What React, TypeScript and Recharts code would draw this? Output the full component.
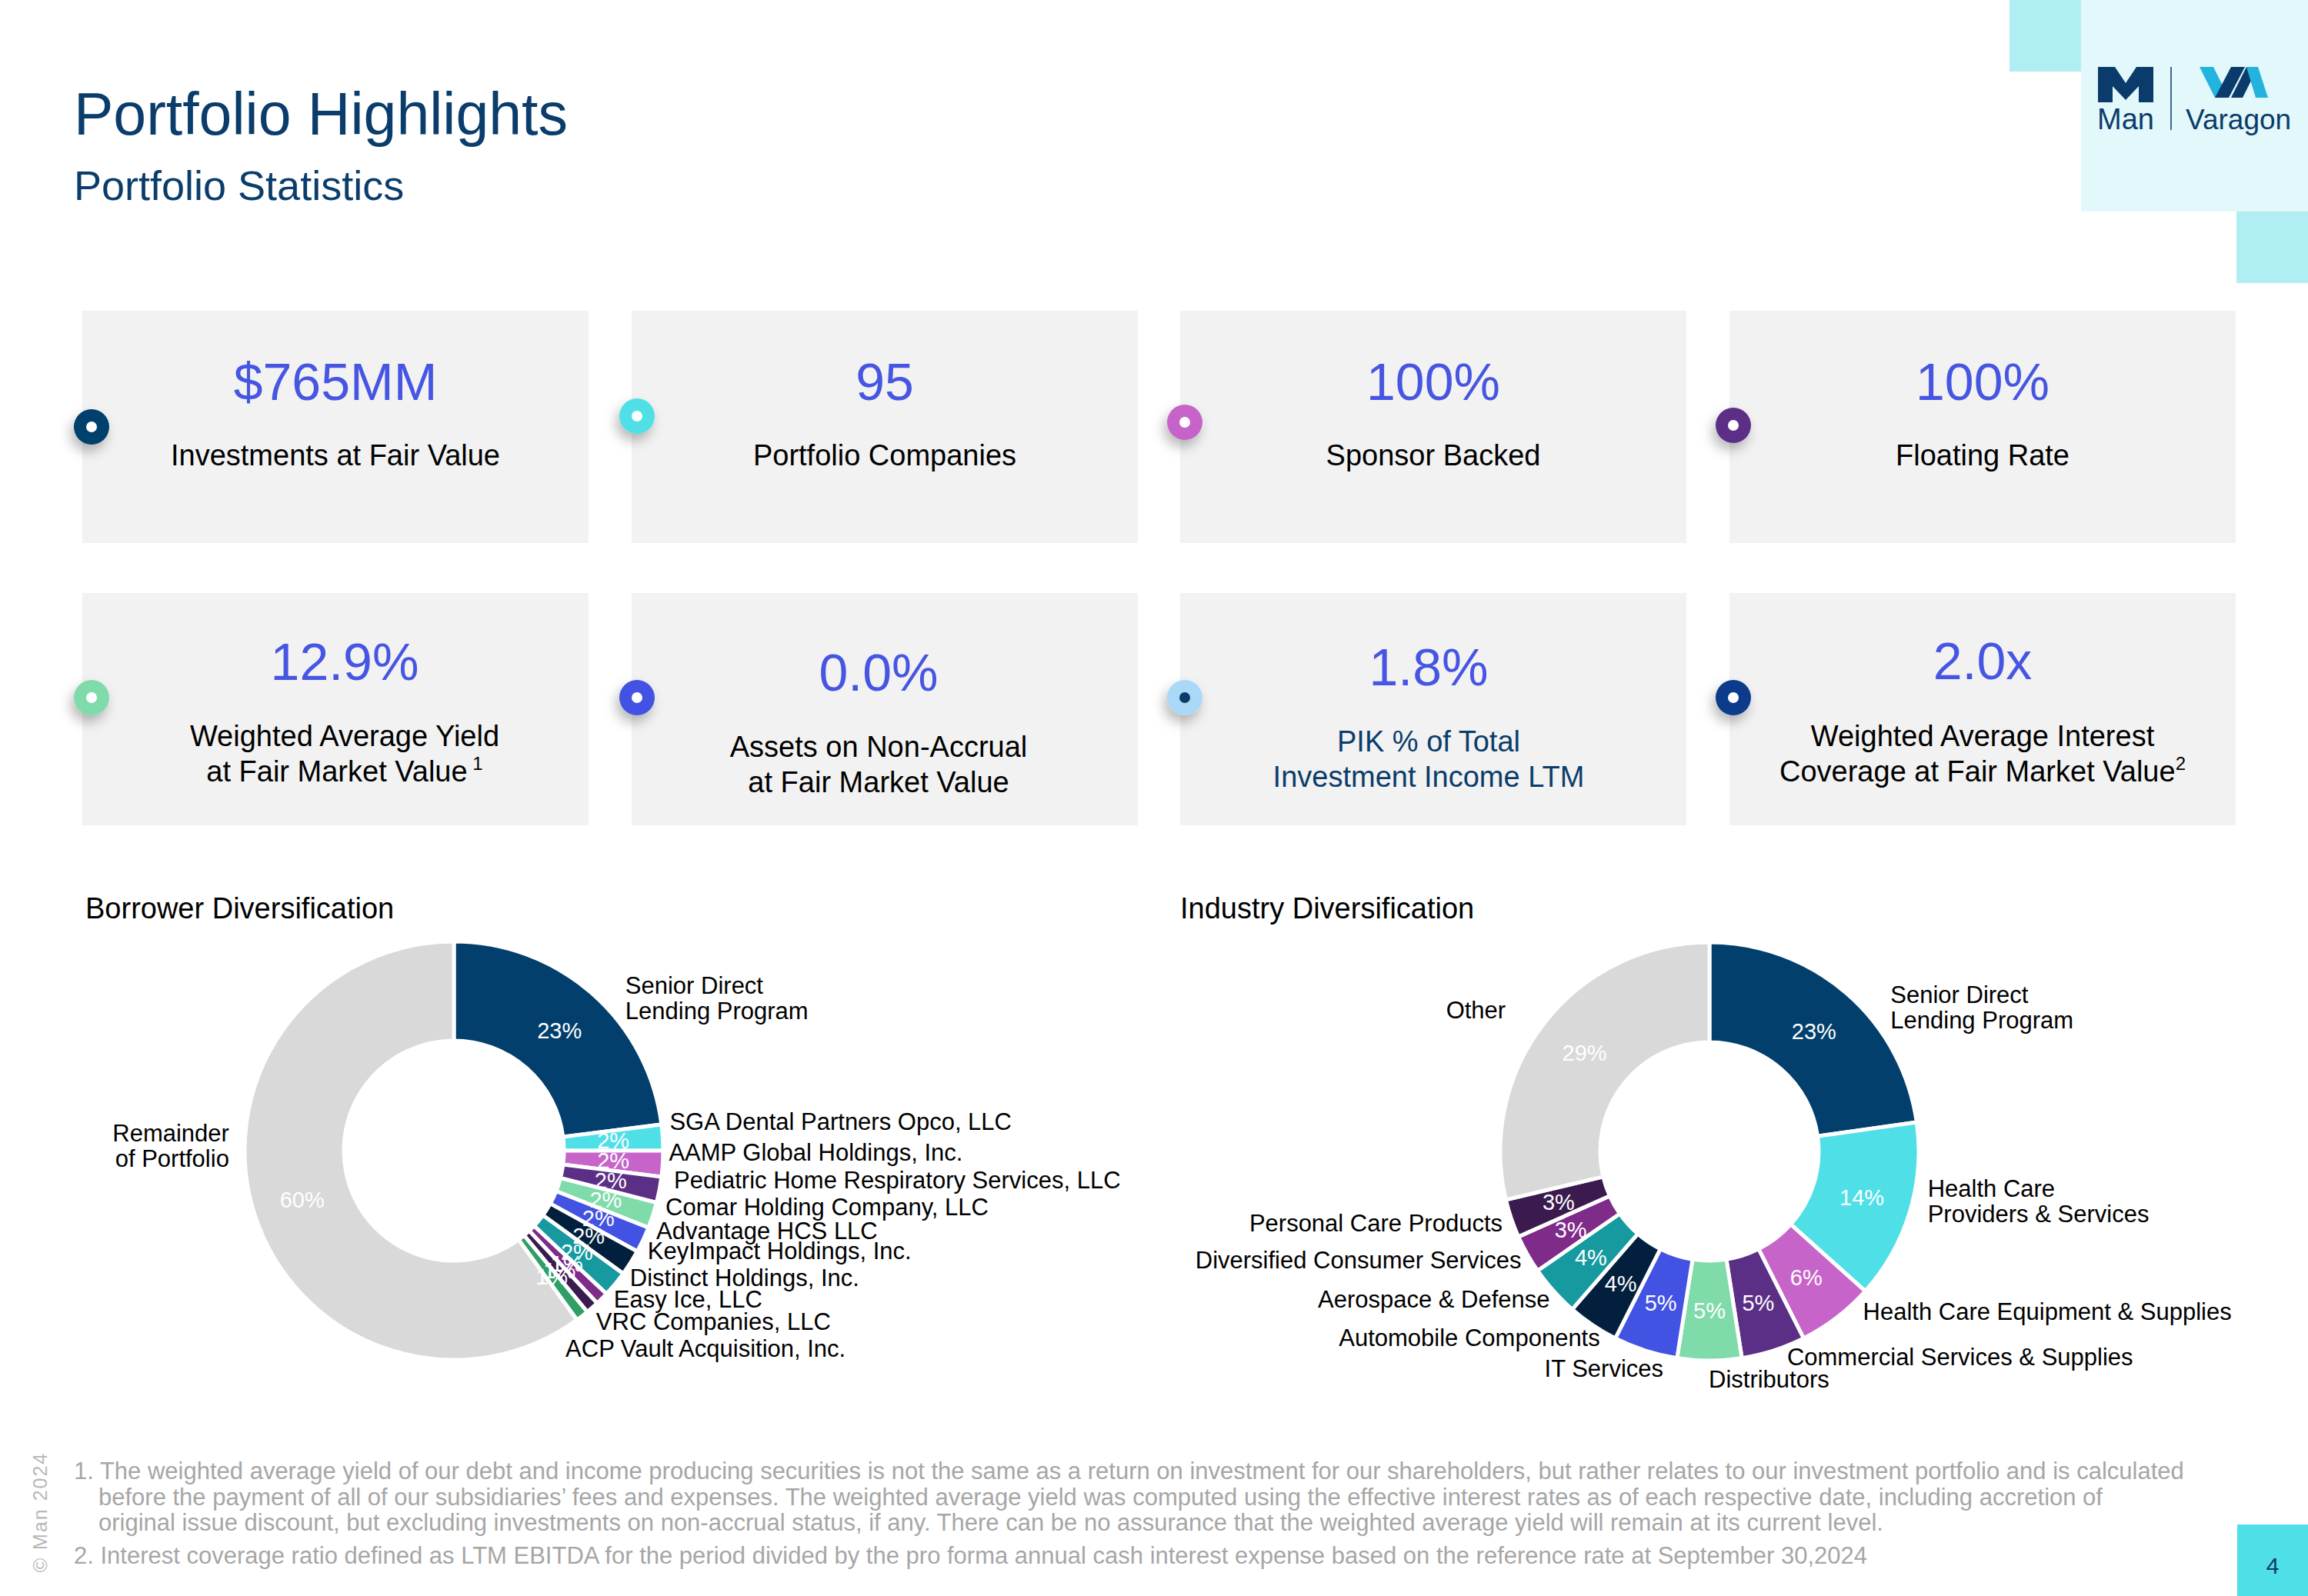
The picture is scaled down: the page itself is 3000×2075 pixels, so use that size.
import React from 'react';
import { PieChart, Pie } from 'recharts';

// ---------- data ----------
const statValues = ['$765MM', '95', '100%', '100%', '12.9%', '0.0%', '1.8%', '2.0x'];
const statLabels = [
  ['Investments at Fair Value'],
  ['Portfolio Companies'],
  ['Sponsor Backed'],
  ['Floating Rate'],
  ['Weighted Average Yield', 'at Fair Market Value'],
  ['Assets on Non-Accrual', 'at Fair Market Value'],
  ['PIK % of Total', 'Investment Income LTM'],
  ['Weighted Average Interest', 'Coverage at Fair Market Value'],
];
const statNotes = ['', '', '', '', '1', '', '', '2'];
const statDotColors = ['#023f6c', '#4fdfe7', '#c664c9', '#5b2f86', '#80dbaa', '#4253e3', '#aad8f7', '#0b3a8c'];
const statDotCenters = ['#ffffff', '#ffffff', '#ffffff', '#ffffff', '#ffffff', '#ffffff', '#0b3b6a', '#ffffff'];

const borrowerNames = [
  'Senior Direct\nLending Program',
  'SGA Dental Partners Opco, LLC',
  'AAMP Global Holdings, Inc.',
  'Pediatric Home Respiratory Services, LLC',
  'Comar Holding Company, LLC',
  'Advantage HCS LLC',
  'KeyImpact Holdings, Inc.',
  'Distinct Holdings, Inc.',
  'Easy Ice, LLC',
  'VRC Companies, LLC',
  'ACP Vault Acquisition, Inc.',
  'Remainder\nof Portfolio',
];
const borrowerValues = [23, 2, 2, 2, 2, 2, 2, 2, 1, 1, 1, 60];
const borrowerColors = ['#023f6c', '#4fdfe7', '#c664c9', '#5b2f86', '#80dbaa', '#4253e3', '#02203d', '#169aa0', '#7e2b8a', '#3b1b4f', '#2f9f67', '#d9d9d9'];

const industryNames = [
  'Senior Direct\nLending Program',
  'Health Care\nProviders & Services',
  'Health Care Equipment & Supplies',
  'Commercial Services & Supplies',
  'Distributors',
  'IT Services',
  'Automobile Components',
  'Aerospace & Defense',
  'Diversified Consumer Services',
  'Personal Care Products',
  'Other',
];
const industryValues = [23, 14, 6, 5, 5, 5, 4, 4, 3, 3, 29];
const industryColors = ['#023f6c', '#4fdfe7', '#c664c9', '#5b2f86', '#80dbaa', '#4253e3', '#02203d', '#169aa0', '#7e2b8a', '#3b1b4f', '#d9d9d9'];

const footnoteLines = [
  '1. The weighted average yield of our debt and income producing securities is not the same as a return on investment for our shareholders, but rather relates to our investment portfolio and is calculated',
  'before the payment of all of our subsidiaries\u2019 fees and expenses. The weighted average yield was computed using the effective interest rates as of each respective date, including accretion of',
  'original issue discount, but excluding investments on non-accrual status, if any. There can be no assurance that the weighted average yield will remain at its current level.',
  '2. Interest coverage ratio defined as LTM EBITDA for the period divided by the pro forma annual cash interest expense based on the reference rate at September 30,2024',
];

// ---------- layout ----------
const FONT = '"Liberation Sans", Arial, Helvetica, sans-serif';
const NAVY = '#0a3d6b';
const VALUE_BLUE = '#4656e2';
const cardX = [107, 821, 1534, 2248];
const cardW = 658;
const rowTop = [404, 771];
const cardH = 302;
const contentShift = [0, 0, 0, 0, 12, -8, -6, 0];
const valueOffset = [116, 116, 116, 116, 113, 127, 120, 112];
const labelOffset = [201, 201, 201, 201, 199, 213, 206, 199];
const dotX = [119, 828, 1540, 2253];
const dotY = [555, 541, 549, 553, 907, 907, 907, 907];
const footX = [96, 128, 128, 96];
const footY = [1923, 1957, 1990, 2033];

const borrowerNudge: [number, number][] = [
  [35, 15], [-3, -20], [-4, -16], [7, -15], [5, -15], [6, -17], [12, -22], [10, -16], [7, -8], [-3, 9], [-29, 33], [-22, -94],
];
const industryNudge: [number, number][] = [
  [49, 27], [12, -18], [27, -18], [14, -3], [-1, 12], [27, 12], [16, 6], [4, 2], [3, 2], [0, 2], [-42, -8],
];

const RAD = Math.PI / 180;

function makeLabel(names: string[], nudges: [number, number][]) {
  return (props: any) => {
    const { cx, cy, midAngle, innerRadius, outerRadius, index, value } = props;
    const rm = (innerRadius + outerRadius) / 2;
    const px = cx + rm * Math.cos(-midAngle * RAD);
    const py = cy + rm * Math.sin(-midAngle * RAD);
    const ro = outerRadius + 12;
    const ax = cx + ro * Math.cos(-midAngle * RAD);
    const ay = cy + ro * Math.sin(-midAngle * RAD);
    const anchor = ax >= cx - 1 ? 'start' : 'end';
    const [ndx, ndy] = nudges[index] || [0, 0];
    const lines = names[index].split('\n');
    const lh = 33;
    const first = -((lines.length - 1) / 2) * lh;
    return (
      <g>
        <text x={px} y={py} fill="#ffffff" fontSize={29} fontFamily={FONT} textAnchor="middle" dominantBaseline="central">
          {`${value}%`}
        </text>
        <text x={ax + ndx} y={ay + ndy} fill="#000000" fontSize={31} fontFamily={FONT} textAnchor={anchor} dominantBaseline="central">
          {lines.map((l, i) => (
            <tspan key={i} x={ax + ndx} dy={i === 0 ? first : lh}>{l}</tspan>
          ))}
        </text>
      </g>
    );
  };
}

const borrowerData = borrowerNames.map((n, i) => ({ name: n, value: borrowerValues[i], fill: borrowerColors[i] }));
const industryData = industryNames.map((n, i) => ({ name: n, value: industryValues[i], fill: industryColors[i] }));

function Background() {
  return (
    <svg width={3000} height={2075} style={{ position: 'absolute', left: 0, top: 0 }} fontFamily={FONT}>
      <defs>
        <filter id="dotShadow" x="-100%" y="-100%" width="300%" height="300%">
          <feDropShadow dx={-4} dy={9} stdDeviation={8} floodColor="#000" floodOpacity={0.28} />
        </filter>
      </defs>
      <rect x={0} y={0} width={3000} height={2075} fill="#ffffff" />
      {/* decorative logo blocks */}
      <rect x={2612} y={0} width={93} height={93} fill="#b0eef4" />
      <rect x={2705} y={0} width={295} height={275} fill="#e2f8fa" />
      <rect x={2907} y={275} width={93} height={93} fill="#b0eef4" />
      {/* Man mark */}
      <path d="M2727,87 L2749,87 L2763,108 L2777,87 L2799,87 L2799,133 L2780,133 L2780,112 L2763,130 L2746,112 L2746,133 L2727,133 Z" fill="#0b3b6a" />
      <text x={2726} y={168} fontSize={38} fill="#0b3b6a">Man</text>
      <line x1={2822} y1={87} x2={2822} y2={169} stroke="#0b3b6a" strokeWidth={1.5} />
      {/* VA mark */}
      <polygon points="2859,87 2877,87 2897,127 2879,127" fill="#22b3df" />
      <polygon points="2879,127 2897,127 2918,87 2900,87" fill="#0b3b6a" />
      <polygon points="2900,127 2915,127 2935,87 2920,87" fill="#0b3b6a" />
      <polygon points="2920,87 2935,87 2948,127 2932,127" fill="#22b3df" />
      <text x={2841} y={168} fontSize={37} fill="#0b3b6a">Varagon</text>

      {/* titles */}
      <text x={96} y={175} fontSize={77} fill={NAVY}>Portfolio Highlights</text>
      <text x={96} y={260} fontSize={54} fill={NAVY}>Portfolio Statistics</text>

      {/* stat cards */}
      {statValues.map((v, i) => {
        const col = i % 4;
        const row = Math.floor(i / 4);
        const x = cardX[col];
        const y = rowTop[row];
        const cxm = x + cardW / 2 + contentShift[i];
        const labelColor = i === 6 ? NAVY : '#000000';
        return (
          <g key={i}>
            <rect x={x} y={y} width={cardW} height={cardH} fill="#f2f2f2" />
            <text x={cxm} y={y + valueOffset[i]} fontSize={68} fill={VALUE_BLUE} textAnchor="middle">{v}</text>
            {statLabels[i].map((l, j) => (
              <text key={j} x={cxm} y={y + labelOffset[i] + j * 46} fontSize={38} fill={labelColor} textAnchor="middle">
                {l}
                {j === statLabels[i].length - 1 && statNotes[i] ? (
                  <tspan fontSize={24} dy={-15}>{(i === 4 ? ' ' : '') + statNotes[i]}</tspan>
                ) : null}
              </text>
            ))}
            <g filter="url(#dotShadow)">
              <circle cx={dotX[col]} cy={dotY[i]} r={23} fill={statDotColors[i]} />
            </g>
            <circle cx={dotX[col]} cy={dotY[i]} r={7} fill={statDotCenters[i]} />
          </g>
        );
      })}

      {/* chart titles */}
      <text x={111} y={1194} fontSize={38} fill="#000">Borrower Diversification</text>
      <text x={1534} y={1194} fontSize={38} fill="#000">Industry Diversification</text>

      {/* footnotes */}
      {footnoteLines.map((l, i) => (
        <text key={i} x={footX[i]} y={footY[i]} fontSize={31} fill="#a6a6a6">{l}</text>
      ))}
      <text x={52} y={1966} fontSize={25} fill="#b8b8b8" textAnchor="middle" dominantBaseline="central" letterSpacing={2} transform="rotate(-90 52 1966)">© Man 2024</text>

      {/* page number */}
      <rect x={2908} y={1982} width={92} height={93} fill="#4fdfe6" />
      <text x={2954} y={2046} fontSize={30} fill="#0b3b6a" textAnchor="middle">4</text>
    </svg>
  );
}

export default function App() {
  return (
    <div style={{ position: 'absolute', left: 0, top: 0, width: 3000, height: 2075, overflow: 'hidden', background: '#fff', fontFamily: FONT }}>
      <Background />
      <div style={{ position: 'absolute', left: 0, top: 1130 }}>
        <PieChart width={1500} height={760} margin={{ top: 0, right: 0, bottom: 0, left: 0 }}>
          <Pie
            data={borrowerData}
            dataKey="value"
            nameKey="name"
            cx={590}
            cy={366}
            innerRadius={143}
            outerRadius={272}
            startAngle={90}
            endAngle={-270}
            stroke="#ffffff"
            strokeWidth={5}
            isAnimationActive={false}
            labelLine={false}
            label={makeLabel(borrowerNames, borrowerNudge)}
          />
        </PieChart>
      </div>
      <div style={{ position: 'absolute', left: 1500, top: 1130 }}>
        <PieChart width={1500} height={760} margin={{ top: 0, right: 0, bottom: 0, left: 0 }}>
          <Pie
            data={industryData}
            dataKey="value"
            nameKey="name"
            cx={722}
            cy={367}
            innerRadius={142}
            outerRadius={272}
            startAngle={90}
            endAngle={-270}
            stroke="#ffffff"
            strokeWidth={5}
            isAnimationActive={false}
            labelLine={false}
            label={makeLabel(industryNames, industryNudge)}
          />
        </PieChart>
      </div>
    </div>
  );
}
